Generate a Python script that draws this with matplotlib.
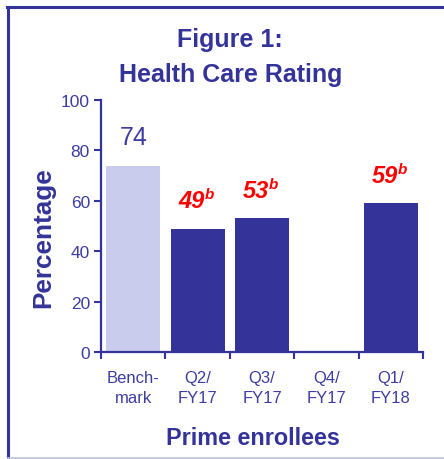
import matplotlib
matplotlib.use("Agg")
import matplotlib.pyplot as plt
import numpy as np
from matplotlib.lines import Line2D

categories = ["Bench-\nmark", "Q2/\nFY17", "Q3/\nFY17", "Q4/\nFY17", "Q1/\nFY18"]
values = [74, 49, 53, np.nan, 59]
value_labels = ["74", "49", "53", "", "59"]
superscripts = ["", "b", "b", "", "b"]
yticks = [0, 20, 40, 60, 80, 100]

DARK = "#333399"
TXT = "#3D3DA0"
LIGHT = "#C9CCEC"
RED = "#FF0000"

plt.rcParams["font.family"] = ["Liberation Sans", "DejaVu Sans"]

W, H = 444, 460
fig = plt.figure(figsize=(W/100, H/100), dpi=100)
ax = fig.add_axes([101/W, 1-353/H, (423-101)/W, (353-101)/H])

x = np.arange(len(categories))
colors = [LIGHT] + [DARK] * (len(categories) - 1)
ax.bar(x, values, width=0.84, color=colors, zorder=2)

ax.set_xlim(-0.5, len(categories) - 0.5)
ax.set_ylim(0, 100)
ax.set_yticks(yticks)
ax.set_yticklabels([str(v) for v in yticks], fontsize=12.5, color=TXT)

ax.set_xticks(np.arange(len(categories) + 1) - 0.5)
ax.set_xticklabels([""] * (len(categories) + 1))
ax.set_xticks(x, minor=True)
ax.set_xticklabels(categories, minor=True, fontsize=12, color=TXT, linespacing=1.45)
ax.tick_params(axis="x", which="minor", length=0, pad=13)
ax.tick_params(axis="x", which="major", length=5, width=1.5, color=DARK, direction="out")
ax.tick_params(axis="y", length=5, width=1.5, color=DARK, direction="out", pad=3)

for s in ["top", "right"]:
    ax.spines[s].set_visible(False)
for s in ["left", "bottom"]:
    ax.spines[s].set_color(DARK)
    ax.spines[s].set_linewidth(1.6)

for i, (v, lab, sup) in enumerate(zip(values, value_labels, superscripts)):
    if np.isnan(v):
        continue
    if sup:
        ax.annotate(lab, xy=(i, v), xytext=(5, 12), textcoords="offset points",
                    ha="right", va="bottom", fontsize=17, fontweight="bold",
                    fontstyle="italic", color=RED)
        ax.annotate(sup, xy=(i, v), xytext=(5, 20), textcoords="offset points",
                    ha="left", va="bottom", fontsize=11, fontweight="bold",
                    fontstyle="italic", color=RED)
    else:
        ax.annotate(lab, xy=(i, v), xytext=(0, 12), textcoords="offset points",
                    ha="center", va="bottom", fontsize=18, color=TXT)

fig.text(43/W, 1-238/H, "Percentage", rotation=90, ha="center", va="center",
         fontsize=18.8, fontweight="bold", color=DARK)
fig.text(253/W, 1-445/H, "Prime enrollees", ha="center", va="baseline",
         fontsize=16.8, fontweight="bold", color=DARK)

fig.text(230/W, 1-47/H, "Figure 1:", ha="center", va="baseline",
         fontsize=18, fontweight="bold", color=DARK)
fig.text(231/W, 1-82/H, "Health Care Rating", ha="center", va="baseline",
         fontsize=18, fontweight="bold", color=DARK)

# frame
fig.add_artist(Line2D([8/W, 8/W], [0, 1-8/H], transform=fig.transFigure,
                      color=DARK, linewidth=2.2))
fig.add_artist(Line2D([7/W, 1], [1-8/H, 1-8/H], transform=fig.transFigure,
                      color=DARK, linewidth=2.2))
fig.add_artist(Line2D([8/W, 1], [1-459/H, 1-459/H], transform=fig.transFigure,
                      color="#BFC0DA", linewidth=1.2))

fig.savefig("out.png", dpi=100)
